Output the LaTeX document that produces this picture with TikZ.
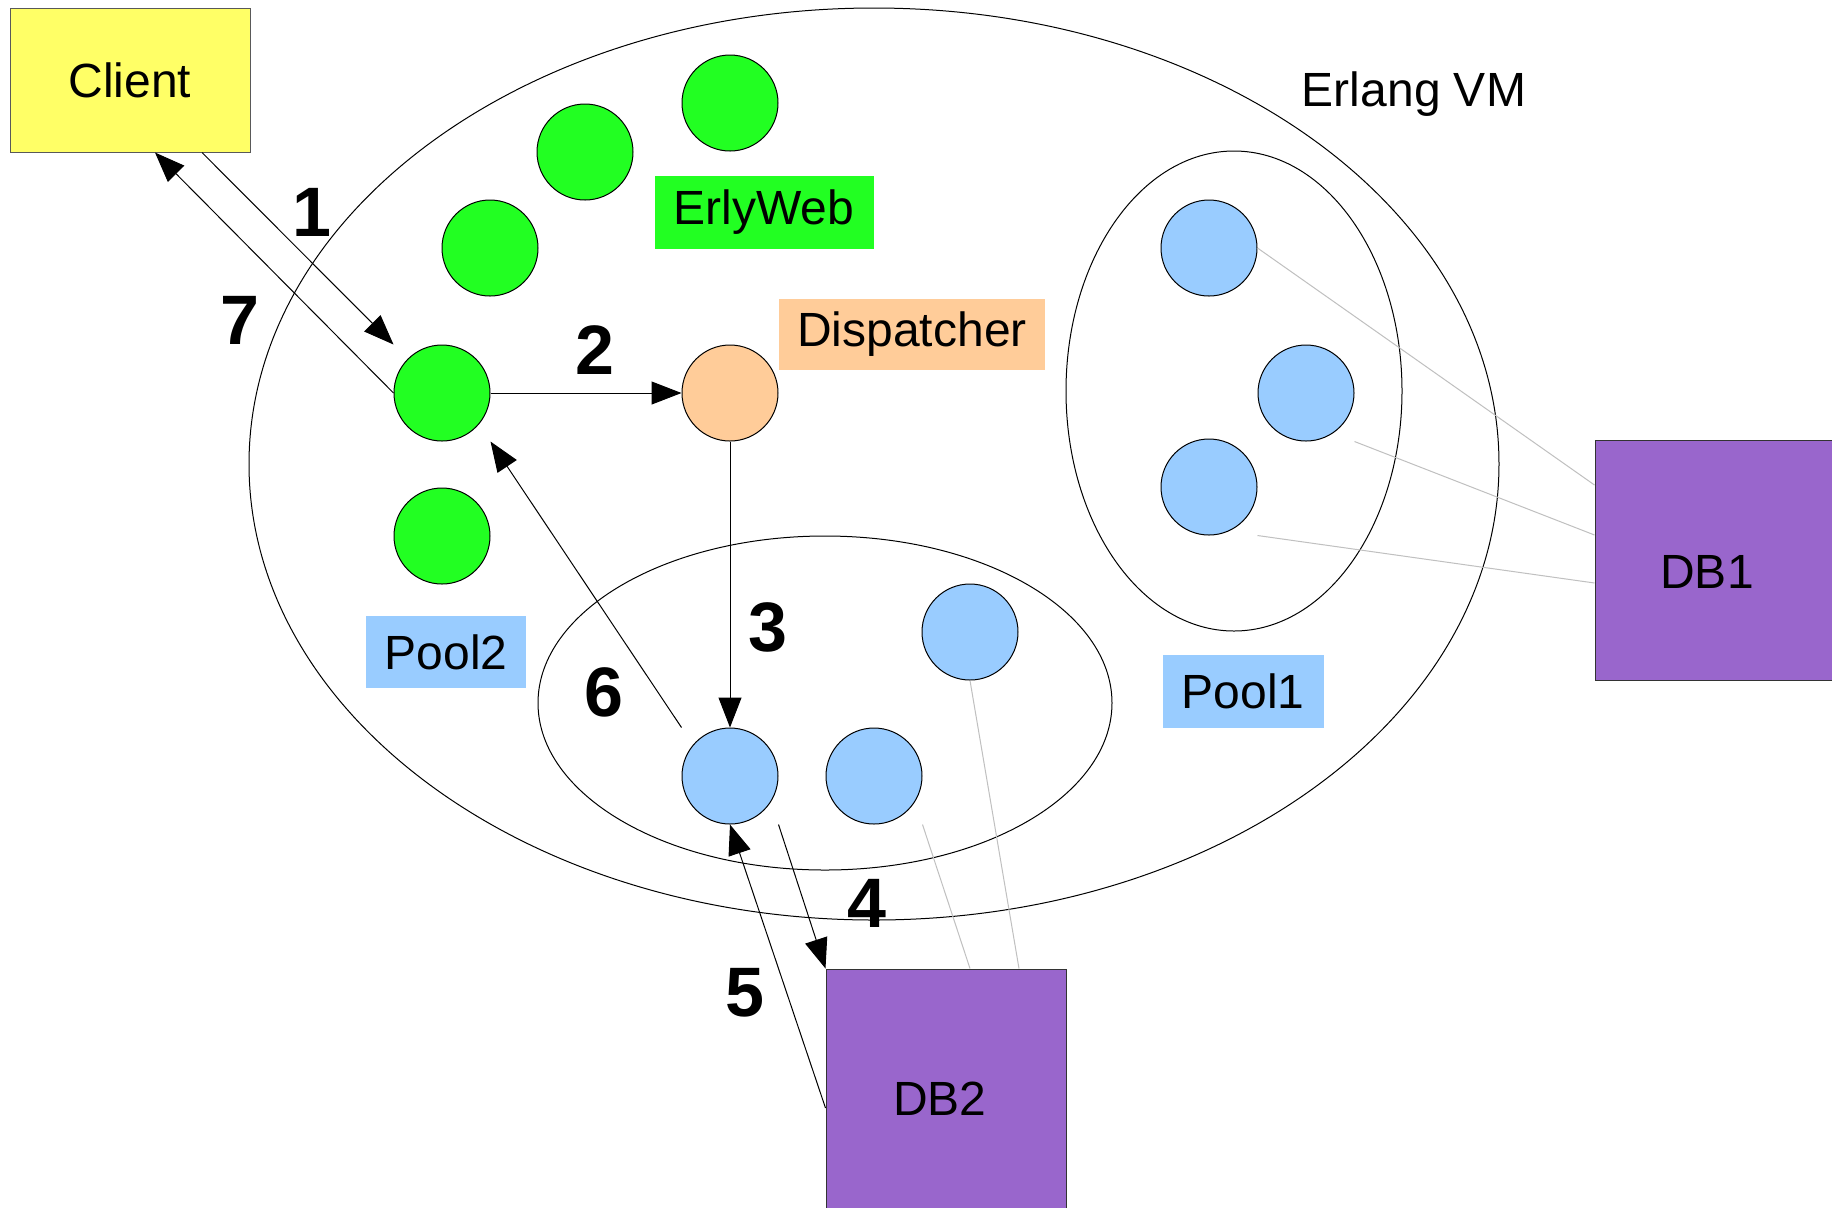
\documentclass[tikz,border=0pt]{standalone}
\usepackage{fontspec}
\setmainfont{Liberation Sans}
\usetikzlibrary{arrows.meta,shapes.geometric}
\definecolor{cyellow}{HTML}{FFFF66}
\definecolor{cgreen}{HTML}{22FF22}
\definecolor{corange}{HTML}{FFCC99}
\definecolor{cblue}{HTML}{99CCFF}
\definecolor{cpurple}{HTML}{9966CC}
\definecolor{cline}{HTML}{C0C0C0}
\begin{document}
\begin{tikzpicture}[x=0.5pt,y=-0.5pt,
  every node/.style={font=\fontsize{24}{28}\selectfont},
  every label/.style={font=\fontsize{24}{28}\selectfont},
  region/.style={ellipse,draw=black,line width=0.5pt,inner sep=0pt},
  proc/.style={circle,draw=black,line width=0.5pt,minimum size=48pt,inner sep=0pt},
  gproc/.style={proc,fill=cgreen},
  bproc/.style={proc,fill=cblue},
  tag/.style={inner sep=0pt},
  box/.style={rectangle,line width=0.5pt,inner sep=0pt},
  dbbox/.style={box,draw=black!80,fill=cpurple,minimum width=120pt,minimum height=120pt},
  num/.style={font=\fontsize{35}{40}\selectfont\bfseries},
  flow/.style={draw=black,line width=0.5pt,-{Triangle[length=15pt,width=11.5pt]}},
  dbline/.style={draw=cline,line width=0.5pt}]
\useasboundingbox (0,0) rectangle (1832,1207);
\fill[white] (0,0) rectangle (1832,1207);

% regions
\node[region,minimum width=625pt,minimum height=456pt] (vm) at (874,464) {};
\node[region,minimum width=168pt,minimum height=240pt] (pool1) at (1234,391) {};
\node[region,minimum width=287pt,minimum height=167pt] (pool2) at (825,703) {};

% boxes
\node[box,draw=black!65,fill=cyellow,minimum width=120pt,minimum height=72pt] (client) at (130,80) {Client};
\node[dbbox,label={[xshift=-4pt,yshift=-6pt]center:DB1}] (db1) at (1715,560) {};
\node[dbbox,label={[xshift=-3pt,yshift=-5pt]center:DB2}] (db2) at (946,1089) {};

% processes
\node[gproc] (g1) at (730,103) {};
\node[gproc] (g2) at (585,152) {};
\node[gproc] (g3) at (490,248) {};
\node[gproc] (g4) at (442,393) {};
\node[gproc] (g5) at (442,536) {};
\node[proc,fill=corange] (disp) at (730,393) {};
\node[bproc] (p1a) at (1209,248) {};
\node[bproc] (p1b) at (1306,393) {};
\node[bproc] (p1c) at (1209,487) {};
\node[bproc] (b1) at (730,776) {};
\node[bproc] (b2) at (874,776) {};
\node[bproc] (b3) at (970,632) {};

% tags
\node[tag] (vmlabel) at (1414,94) {Erlang VM};
\node[tag,fill=cgreen,minimum width=109.5pt,minimum height=36.5pt] (erly) at (764,212) {ErlyWeb};
\node[tag,fill=corange,minimum width=133pt,minimum height=35.5pt] (displ) at (912,334) {Dispatcher};
\node[tag,fill=cblue,minimum width=80.5pt,minimum height=36.5pt] (pool1l) at (1243,691) {Pool1};
\node[tag,fill=cblue,minimum width=80pt,minimum height=36pt] (pool2l) at (446,652) {Pool2};

% db connections
\draw[dbline] (p1a.east) -- ([yshift=37.5pt]db1.west);
\draw[dbline] (p1b.east |- p1b.south) -- ([yshift=12.5pt]db1.west);
\draw[dbline] (p1c.east |- p1c.south) -- ([yshift=-11.5pt]db1.west);
\draw[dbline] (b2.east |- b2.south) -- ([xshift=12pt]db2.north);
\draw[dbline] (b3.south) -- ([xshift=36.5pt]db2.north);

% flow
\draw[flow] ([xshift=36pt]client.south) -- (g4.west |- g4.north);
\draw[flow] (g4.east) -- (disp.west);
\draw[flow] (disp.south) -- (b1.north);
\draw[flow] (b1.east |- b1.south) -- (db2.north west);
\draw[flow] ([yshift=-9.5pt]db2.west) -- (b1.south);
\draw[flow] (b1.west |- b1.north) -- (g4.east |- g4.south);
\draw[flow] (g4.west) -- ([xshift=12.5pt]client.south);

% step numbers
\node[num] (n1) at (312,212) {1};
\node[num] (n2) at (595,350) {2};
\node[num] (n3) at (768,627) {3};
\node[num] (n4) at (867,903) {4};
\node[num] (n5) at (745,993) {5};
\node[num] (n6) at (604,692) {6};
\node[num] (n7) at (240,320) {7};
\end{tikzpicture}
\end{document}
